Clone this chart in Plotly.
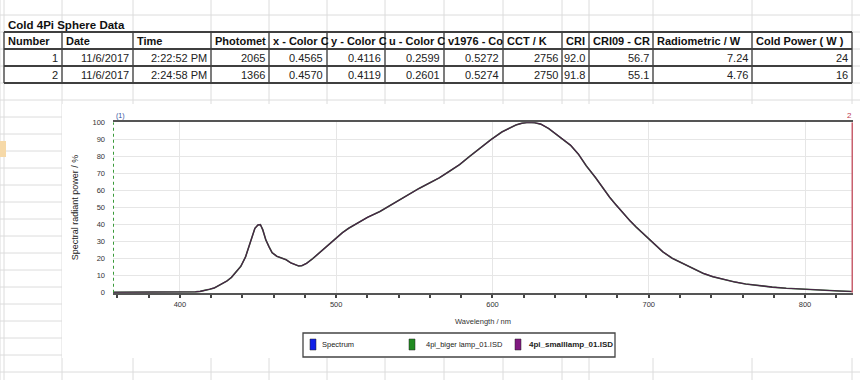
import plotly.graph_objects as go

# ---------------- data ----------------
sheet_title = "Cold 4Pi Sphere Data"
headers = ["Number", "Date", "Time", "Photomet", "x - Color C", "y - Color C", "u - Color C",
           "v1976 - Co", "CCT / K", "CRI", "CRI09 - CR", "Radiometric / W", "Cold Power ( W )"]
row_1 = ["1", "11/6/2017", "2:22:52 PM", "2065", "0.4565", "0.4116", "0.2599",
         "0.5272", "2756", "92.0", "56.7", "7.24", "24"]
row_2 = ["2", "11/6/2017", "2:24:58 PM", "1366", "0.4570", "0.4119", "0.2601",
         "0.5274", "2750", "91.8", "55.1", "4.76", "16"]

wavelength_nm = [357, 370, 380, 390, 400, 405, 410, 413, 416, 419, 422, 426, 430, 433, 436, 439,
                 442, 445, 448, 450, 451.5, 453, 455, 457, 459, 462, 465, 468, 471, 474, 476, 478,
                 481, 485, 489, 493, 497, 500, 504, 508, 513, 520, 528, 535, 541, 547, 553, 560,
                 566, 572, 579, 585, 592, 599, 606, 611, 615, 619, 623, 627, 631, 636, 640, 645,
                 650, 655, 660, 666, 671, 675, 679, 684, 688, 692, 696, 700, 705, 709, 715, 722,
                 728, 735, 741, 747, 755, 762, 770, 779, 788, 798, 810, 822, 830]
spectral_power_pct = [0.2, 0.2, 0.2, 0.2, 0.3, 0.3, 0.5, 0.8, 1.2, 2.0, 2.8, 4.6, 6.8, 9.0, 12.0, 15.5,
                      21.0, 30.0, 37.8, 39.8, 40.0, 37.0, 31.0, 27.0, 23.5, 21.4, 20.4, 19.3, 17.5, 16.2, 15.7, 15.8,
                      17.2, 20.0, 23.3, 26.5, 29.6, 32.0, 35.2, 37.8, 40.5, 44.2, 47.7, 51.5, 54.7, 58.0, 61.2, 64.5,
                      67.4, 71.0, 75.2, 79.7, 85.0, 89.8, 94.3, 96.7, 98.4, 99.5, 100.0, 99.8, 98.9, 96.3, 93.5, 90.5,
                      86.5, 81.3, 74.5, 67.5, 60.8, 56.0, 51.6, 46.3, 42.2, 38.5, 35.0, 31.7, 27.5, 24.0, 20.2, 17.0,
                      14.3, 11.3, 9.4, 7.9, 6.3, 5.1, 4.1, 3.3, 2.6, 2.0, 1.4, 1.0, 0.7]

legend_labels = ["Spectrum", "4pi_biger lamp_01.ISD", "4pi_smalllamp_01.ISD"]
cursor_1_nm = 357.2
cursor_2_nm = 830.7

# ---------------- layout helpers ----------------
W, H = 860, 380
def px(x): return x / W
def py(y): return 1 - y / H

TABLE_FONT = "Liberation Sans, Arial, sans-serif"
CHART_FONT = "Liberation Sans, Arial, sans-serif"
col_edges = [4, 62, 133, 211, 269, 327, 385, 444, 503, 562, 589, 653, 752, 852]
row_edges = [32, 49, 66, 83]
grid_c = "#dcdcdc"
border_c = "#3f3f3f"

shapes = []
annotations = []

# sheet gridlines
for x in [0] + col_edges:
    shapes.append(dict(type="line", xref="paper", yref="paper", x0=px(x), x1=px(x), y0=0, y1=1,
                       line=dict(color=grid_c, width=1), layer="below"))
y = -2
while y < H:
    shapes.append(dict(type="line", xref="paper", yref="paper", x0=0, x1=1, y0=py(y), y1=py(y),
                       line=dict(color=grid_c, width=1), layer="below"))
    y += 17
# selected-cell hint at left edge
shapes.append(dict(type="rect", xref="paper", yref="paper", x0=0, x1=px(6), y0=py(157), y1=py(141),
                   fillcolor="#f6d9a8", line=dict(width=0), layer="below"))
# chart picture background
shapes.append(dict(type="rect", xref="paper", yref="paper", x0=px(62), x1=1, y0=py(358), y1=py(104),
                   fillcolor="white", line=dict(width=0), layer="below"))

# table borders
for i, yy in enumerate(row_edges):
    shapes.append(dict(type="line", xref="paper", yref="paper", x0=px(col_edges[0]), x1=px(col_edges[-1]),
                       y0=py(yy), y1=py(yy), line=dict(color=border_c, width=2), layer="above"))
for x in col_edges:
    shapes.append(dict(type="line", xref="paper", yref="paper", x0=px(x), x1=px(x),
                       y0=py(row_edges[-1]), y1=py(row_edges[0]), line=dict(color=border_c, width=1.3), layer="above"))

# table text
annotations.append(dict(text="<b>" + sheet_title + "</b>", xref="paper", yref="paper", x=px(6), y=py(25),
                        xanchor="left", yanchor="middle", showarrow=False,
                        font=dict(family=TABLE_FONT, size=11.5, color="#111")))
for j, h in enumerate(headers):
    annotations.append(dict(text="<b>" + h + "</b>", xref="paper", yref="paper", x=px(col_edges[j] + 2),
                            y=py(41.5), xanchor="left", yanchor="middle", showarrow=False,
                            font=dict(family=TABLE_FONT, size=11, color="#111")))
for r, row in enumerate([row_1, row_2]):
    yc = (row_edges[r + 1] + row_edges[r + 2]) / 2 + 0.8
    for j, v in enumerate(row):
        annotations.append(dict(text=v, xref="paper", yref="paper", x=px(col_edges[j + 1] - 2),
                                y=py(yc), xanchor="right", yanchor="middle", showarrow=False,
                                font=dict(family=TABLE_FONT, size=11, color="#222")))

# ---------------- chart ----------------
fig = go.Figure()
fig.add_trace(go.Scatter(x=wavelength_nm, y=spectral_power_pct, mode="lines", name=legend_labels[1],
                         line=dict(color="#3c6e3c", width=1.6), showlegend=False, hoverinfo="skip"))
fig.add_trace(go.Scatter(x=wavelength_nm, y=spectral_power_pct, mode="lines", name=legend_labels[2],
                         line=dict(color="#4a2048", width=1.2), showlegend=False))

# cursors
shapes.append(dict(type="line", xref="x", yref="y", x0=cursor_1_nm, x1=cursor_1_nm, y0=0, y1=100,
                   line=dict(color="#3a9a3a", width=2, dash="dot"), layer="above"))
shapes.append(dict(type="line", xref="x", yref="y", x0=cursor_2_nm, x1=cursor_2_nm, y0=0, y1=100,
                   line=dict(color="#c8606e", width=3), layer="above"))
annotations.append(dict(text="(1)", xref="x", yref="y", x=cursor_1_nm, y=100, xanchor="left", yanchor="bottom",
                        xshift=1, showarrow=False, font=dict(family=CHART_FONT, size=7, color="#3050a0")))
annotations.append(dict(text="2", xref="x", yref="y", x=cursor_2_nm, y=100, xanchor="right", yanchor="bottom",
                        xshift=1, showarrow=False, font=dict(family=CHART_FONT, size=8, color="#c04050")))

# manual legend box
leg_x0, leg_x1, leg_y0, leg_y1 = 303, 615, 333, 357
shapes.append(dict(type="rect", xref="paper", yref="paper", x0=px(leg_x0), x1=px(leg_x1), y0=py(leg_y1), y1=py(leg_y0),
                   fillcolor="white", line=dict(color="#444", width=1.3), layer="above"))
leg_colors = ["#1020e8", "#208a20", "#801880"]
leg_sq_x = [310, 409, 515]
leg_tx = [320, 424, 527]
for k in range(3):
    shapes.append(dict(type="rect", xref="paper", yref="paper", x0=px(leg_sq_x[k]), x1=px(leg_sq_x[k] + 6),
                       y0=py(350), y1=py(339), fillcolor=leg_colors[k], line=dict(color="#222", width=0.5), layer="above"))
    lbl = legend_labels[k] if k < 2 else "<b>" + legend_labels[k] + "</b>"
    annotations.append(dict(text=lbl, xref="paper", yref="paper", x=px(leg_tx[k]), y=py(344.5), xanchor="left",
                            yanchor="middle", showarrow=False,
                            font=dict(family=CHART_FONT, size=7.5 if k < 2 else 8, color="#222")))

fig.update_layout(
    width=W, height=H, autosize=False,
    margin=dict(l=0, r=0, t=0, b=0),
    paper_bgcolor="white", plot_bgcolor="rgba(0,0,0,0)",
    shapes=shapes, annotations=annotations, showlegend=False,
    xaxis=dict(domain=[px(113), px(853)], range=[cursor_1_nm, cursor_2_nm], tick0=400, dtick=100,
               automargin=False,
               ticks="outside", ticklen=3, tickwidth=1.5, tickcolor="#444",
               minor=dict(tick0=400, dtick=20, ticks="outside", ticklen=3, tickwidth=1.5, tickcolor="#444", showgrid=False),
               showline=True, linecolor="#555", linewidth=2, mirror=True,
               showgrid=True, gridcolor="#e6e6e6", gridwidth=1, zeroline=False,
               tickfont=dict(family=CHART_FONT, size=7.5, color="#333"),
               title=dict(text="Wavelength / nm", standoff=11, font=dict(family=CHART_FONT, size=7.5, color="#333"))),
    yaxis=dict(domain=[py(292.7), py(122.3)], range=[0, 100], dtick=10, automargin=False,
               showline=False, zeroline=False, showgrid=True, gridcolor="#e6e6e6", gridwidth=1,
               ticks="", ticklabelstandoff=7,
               tickfont=dict(family=CHART_FONT, size=7.5, color="#333"),
               title=dict(text="Spectral radiant power / %", standoff=12,
                          font=dict(family=CHART_FONT, size=9, color="#222"))),
)

fig.write_html("out.html", config={"displayModeBar": False},
               post_script="document.body.style.margin='0';document.body.style.overflow='hidden';")
